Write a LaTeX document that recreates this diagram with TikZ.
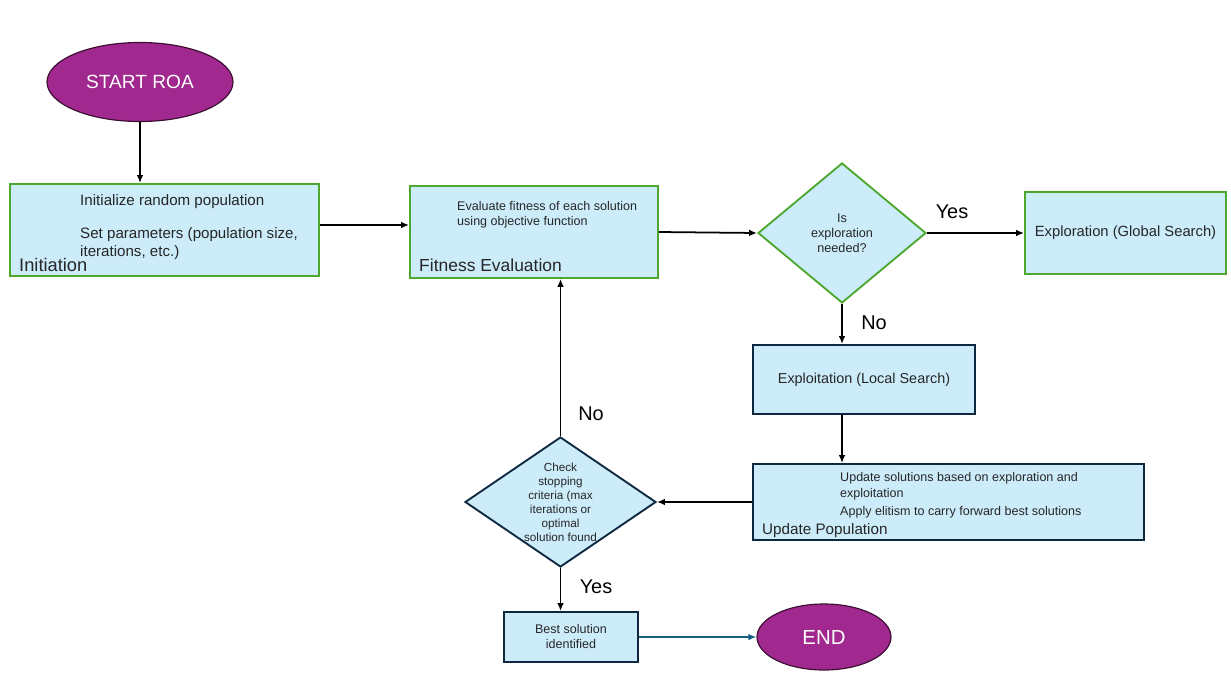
\documentclass[tikz,border=0pt]{standalone}
\usepackage{fontspec}
\setmainfont{Liberation Sans}
\usepackage{xcolor}
\usetikzlibrary{positioning,shapes,arrows.meta}

\definecolor{roapurple}{RGB}{160,40,142}
\definecolor{roaedge}{RGB}{60,15,50}
\definecolor{boxfill}{RGB}{204,236,250}
\definecolor{boxgreen}{RGB}{78,167,46}
\definecolor{boxdark}{RGB}{14,40,65}
\definecolor{endarrow}{RGB}{21,96,130}
\definecolor{txt}{RGB}{38,38,38}

\begin{document}
\begin{tikzpicture}[x=0.03cm, y=-0.03cm,
		terminal/.style={ellipse, draw=roaedge, line width=1pt, fill=roapurple, text=white, inner sep=0pt},
		greenbox/.style={rectangle, draw=boxgreen, line width=1.6pt, fill=boxfill, text=txt, inner sep=0pt},
		darkbox/.style={rectangle, draw=boxdark, line width=1.6pt, fill=boxfill, text=txt, inner sep=0pt},
		decision/.style={diamond, fill=boxfill, line width=1.6pt, inner sep=0pt},
		boxtext/.style={anchor=base west, inner sep=0pt, text=txt},
		flow/.style={-{Latex[length=2.4mm,width=2mm]}, line width=1.5pt},
		answer/.style={font=\fontsize{17}{20}\selectfont, text=black}]
				\useasboundingbox (0,0) rectangle (1231,695);
				\node[terminal, minimum width=5.58cm, minimum height=2.37cm, font=\fontsize{16.3}{19}\selectfont] (start) at (140,82) {START ROA};
				\node[greenbox, minimum width=9.27cm, minimum height=2.76cm] (init) at (164.5,230) {};
				\node[greenbox, minimum width=7.44cm, minimum height=2.76cm] (fitness) at (534,232) {};
				\node[decision, draw=boxgreen, minimum width=5.04cm, minimum height=4.2cm] (explore) at (842,233) {};
				\node[greenbox, minimum width=6.03cm, minimum height=2.46cm, font=\fontsize{12.6}{15}\selectfont] (global) at (1125.5,233) {Exploration (Global Search)};
				\node[darkbox, minimum width=6.66cm, minimum height=2.07cm, font=\fontsize{12.3}{15}\selectfont] (local) at (864,379.5) {Exploitation (Local Search)};
				\node[darkbox, minimum width=11.73cm, minimum height=2.28cm] (update) at (948.5,502) {};
				\node[decision, draw=boxdark, minimum width=5.73cm, minimum height=3.9cm] (stop) at (560.5,502) {};
				\node[darkbox, minimum width=4.02cm, minimum height=1.5cm, align=center, font=\fontsize{10.7}{12.8}\selectfont] (best) at (571,637) {Best solution\\identified};
				\node[terminal, minimum width=4.02cm, minimum height=1.98cm, font=\fontsize{17.4}{20}\selectfont] (finish) at (824,637) {END};
				\node[boxtext, font=\fontsize{12.9}{15}\selectfont] (initpop) at (80,205) {Initialize random population};
				\node[boxtext, font=\fontsize{12.9}{15}\selectfont] (initparam) at (80,238) {Set parameters (population size,};
				\node[boxtext, font=\fontsize{12.9}{15}\selectfont] (inititer) at (80,256) {iterations, etc.)};
				\node[boxtext, font=\fontsize{15.6}{18}\selectfont] (initlabel) at (19,271) {Initiation};
				\node[boxtext, font=\fontsize{10.7}{13}\selectfont] (fiteval) at (457,210) {Evaluate fitness of each solution};
				\node[boxtext, font=\fontsize{10.7}{13}\selectfont] (fitobj) at (457,225) {using objective function};
				\node[boxtext, font=\fontsize{14.9}{18}\selectfont] (fitlabel) at (419,271) {Fitness Evaluation};
				\node[boxtext, font=\fontsize{10.7}{13}\selectfont] (updsol) at (840,481) {Update solutions based on exploration and};
				\node[boxtext, font=\fontsize{10.7}{13}\selectfont] (updexp) at (840,497) {exploitation};
				\node[boxtext, font=\fontsize{10.7}{13}\selectfont] (updelite) at (840,515) {Apply elitism to carry forward best solutions};
				\node[boxtext, font=\fontsize{13}{16}\selectfont] (updlabel) at (762,534) {Update Population};
				\node[align=center, text=txt, inner sep=0pt, font=\fontsize{10.8}{12.8}\selectfont] (exploretext) at (explore) {Is\\exploration\\needed?};
				\node[align=center, text=txt, inner sep=0pt, font=\fontsize{10}{11.9}\selectfont] (stoptext) at (stop) {Check\\stopping\\criteria (max\\iterations or\\optimal\\solution found};
				\node[answer] (yesglobal) at (952,212) {Yes};
				\node[answer] (nolocal) at (874,323) {No};
				\node[answer] (noloop) at (591,414) {No};
				\node[answer] (yesbest) at (596,587) {Yes};
				\draw[flow] (start.south) -- (start.south |- init.north);
				\draw[flow] ([yshift=4.3pt]init.east) -- ([yshift=4.3pt]init.east -| fitness.west);
				\draw[flow] (fitness.east) -- (explore.west);
				\draw[flow] (explore.east) -- (global.west);
				\draw[flow] (explore.south) -- (explore.south |- local.north);
				\draw[flow] (explore.south |- local.south) -- (explore.south |- update.north);
				\draw[flow] (update.west) -- (stop.east);
				\draw[flow] (stop.north) -- (stop.north |- fitness.south);
				\draw[flow] (stop.south) -- (stop.south |- best.north);
				\draw[flow, color=endarrow] (best.east) -- (finish.west);
			\end{tikzpicture}
\end{document}
